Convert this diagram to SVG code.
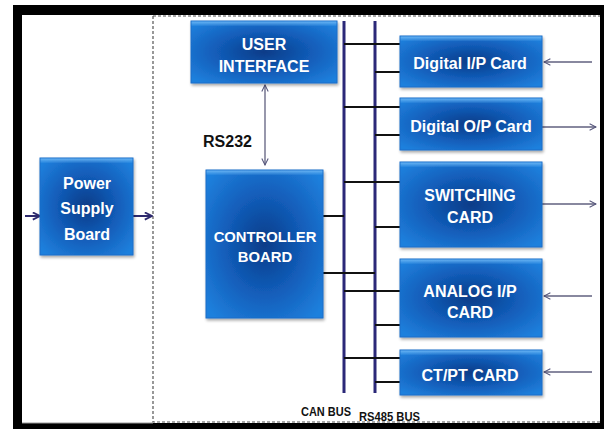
<svg xmlns="http://www.w3.org/2000/svg" width="604" height="429" viewBox="0 0 604 429">
  <defs>
    <radialGradient id="boxFill" cx="50%" cy="50%" r="65%">
      <stop offset="0%" stop-color="#083c88"/>
      <stop offset="50%" stop-color="#125cb8"/>
      <stop offset="100%" stop-color="#1f80dd"/>
    </radialGradient>
    <linearGradient id="topGlow" x1="0" y1="0" x2="0" y2="1">
      <stop offset="0%" stop-color="#6fb8f5" stop-opacity="0.9"/>
      <stop offset="100%" stop-color="#6fb8f5" stop-opacity="0"/>
    </linearGradient>
    <filter id="shadow" x="-10%" y="-10%" width="125%" height="130%">
      <feGaussianBlur in="SourceAlpha" stdDeviation="1.5"/>
      <feOffset dx="1" dy="2" result="b"/>
      <feComponentTransfer><feFuncA type="linear" slope="0.35"/></feComponentTransfer>
      <feMerge><feMergeNode/><feMergeNode in="SourceGraphic"/></feMerge>
    </filter>
    <marker id="open" viewBox="0 0 10 10" refX="9" refY="5" markerWidth="8" markerHeight="8" markerUnits="userSpaceOnUse" orient="auto-start-reverse">
      <path d="M1,1 L9,5 L1,9" fill="none" stroke="#55557a" stroke-width="1.3"/>
    </marker>
    <marker id="openDark" viewBox="0 0 10 10" refX="9" refY="5" markerWidth="9" markerHeight="9" markerUnits="userSpaceOnUse" orient="auto-start-reverse">
      <path d="M1,1 L9,5 L1,9" fill="none" stroke="#2e2a6e" stroke-width="2"/>
    </marker>
  </defs>
  <style>
    .box { fill: url(#boxFill); stroke: #1a6cc8; stroke-width: 1; filter: url(#shadow); }
    .glow { fill: url(#topGlow); }
    .lbl { font-family: "Liberation Sans", Arial, sans-serif; font-weight: bold; font-size: 16px; fill: #ffffff; text-anchor: middle; }
    .bus { stroke: #2b2878; stroke-width: 3; fill: none; }
    .tap { stroke: #111111; stroke-width: 2; fill: none; }
    .sig { stroke: #60607f; stroke-width: 1.3; fill: none; }
    .cap { font-family: "Liberation Sans", Arial, sans-serif; font-weight: bold; fill: #111111; }
  </style>

  <!-- page frame -->
  <rect x="13" y="5" width="591" height="424" fill="#000000"/>
  <rect x="22" y="15" width="578" height="408" fill="#ffffff"/>
  <line x1="22" y1="423" x2="153" y2="423" stroke="#999999" stroke-width="1"/>
  <!-- dashed enclosure of the controller section -->
  <path d="M153,16 H600 M153,16 V422 H600" fill="none" stroke="#555555" stroke-width="1.2" stroke-dasharray="3,2"/>

  <!-- connectors -->
  <g id="connectors">
    <!-- CAN and RS485 bus lines -->
    <line class="bus" x1="344" y1="21" x2="344" y2="393"/>
    <line class="bus" x1="375" y1="21" x2="375" y2="393"/>
    <!-- Digital I/P taps -->
    <line class="tap" x1="344" y1="44" x2="400" y2="44"/>
    <line class="tap" x1="375" y1="72" x2="400" y2="72"/>
    <!-- Digital O/P taps -->
    <line class="tap" x1="344" y1="107" x2="400" y2="107"/>
    <line class="tap" x1="375" y1="135" x2="400" y2="135"/>
    <!-- Switching taps -->
    <line class="tap" x1="344" y1="182" x2="400" y2="182"/>
    <line class="tap" x1="375" y1="227" x2="400" y2="227"/>
    <!-- Controller taps -->
    <line class="tap" x1="323" y1="216" x2="344" y2="216"/>
    <line class="tap" x1="323" y1="273" x2="375" y2="273"/>
    <!-- Analog I/P taps -->
    <line class="tap" x1="344" y1="291" x2="400" y2="291"/>
    <line class="tap" x1="375" y1="325" x2="400" y2="325"/>
    <!-- CT/PT taps -->
    <line class="tap" x1="344" y1="358" x2="400" y2="358"/>
    <line class="tap" x1="375" y1="382" x2="400" y2="382"/>

    <!-- RS232 link -->
    <line class="sig" x1="265" y1="85" x2="265" y2="165" marker-start="url(#open)" marker-end="url(#open)"/>

    <!-- field signals -->
    <line class="sig" x1="592" y1="62" x2="544" y2="62" marker-end="url(#open)"/>
    <line class="sig" x1="542" y1="127" x2="596" y2="127" marker-end="url(#open)"/>
    <line class="sig" x1="542" y1="204" x2="596" y2="204" marker-end="url(#open)"/>
    <line class="sig" x1="592" y1="296" x2="544" y2="296" marker-end="url(#open)"/>
    <line class="sig" x1="592" y1="372" x2="544" y2="372" marker-end="url(#open)"/>

    <!-- power in / out -->
    <line x1="25" y1="216" x2="40" y2="216" stroke="#2e2a6e" stroke-width="2" marker-end="url(#openDark)"/>
    <line x1="133" y1="216" x2="152" y2="216" stroke="#2e2a6e" stroke-width="2" marker-end="url(#openDark)"/>
  </g>

  <g id="power-supply">
    <rect class="box" x="40" y="158" width="93" height="97"/>
    <rect class="glow" x="40.5" y="158.5" width="92" height="5"/>
    <text class="lbl" x="87" y="189">Power</text>
    <text class="lbl" x="87" y="214">Supply</text>
    <text class="lbl" x="87" y="240">Board</text>
  </g>

  <g id="user-interface">
    <rect class="box" x="191" y="21" width="146" height="62"/>
    <rect class="glow" x="191.5" y="21.5" width="145" height="5"/>
    <text class="lbl" x="264" y="50">USER</text>
    <text class="lbl" x="264" y="72">INTERFACE</text>
  </g>

  <g id="controller">
    <rect class="box" x="206" y="170" width="117" height="148"/>
    <rect class="glow" x="206.5" y="170.5" width="116" height="5"/>
    <text class="lbl" x="265" y="242" style="font-size:14.8px">CONTROLLER</text>
    <text class="lbl" x="265" y="262" style="font-size:14.8px">BOARD</text>
  </g>

  <g id="digital-ip">
    <rect class="box" x="400" y="36" width="142" height="51"/>
    <rect class="glow" x="400.5" y="36.5" width="141" height="5"/>
    <text class="lbl" x="470" y="69">Digital I/P Card</text>
  </g>

  <g id="digital-op">
    <rect class="box" x="400" y="98" width="142" height="52"/>
    <rect class="glow" x="400.5" y="98.5" width="141" height="5"/>
    <text class="lbl" x="471" y="132">Digital O/P Card</text>
  </g>

  <g id="switching">
    <rect class="box" x="400" y="162" width="142" height="85"/>
    <rect class="glow" x="400.5" y="162.5" width="141" height="5"/>
    <text class="lbl" x="470" y="201">SWITCHING</text>
    <text class="lbl" x="470" y="223">CARD</text>
  </g>

  <g id="analog-ip">
    <rect class="box" x="400" y="259" width="142" height="78"/>
    <rect class="glow" x="400.5" y="259.5" width="141" height="5"/>
    <text class="lbl" x="470" y="297">ANALOG I/P</text>
    <text class="lbl" x="470" y="318">CARD</text>
  </g>

  <g id="ctpt">
    <rect class="box" x="400" y="350" width="142" height="45"/>
    <rect class="glow" x="400.5" y="350.5" width="141" height="5"/>
    <text class="lbl" x="470" y="381">CT/PT CARD</text>
  </g>

  <!-- captions -->
  <text class="cap" x="203" y="147" style="font-size:16px">RS232</text>
  <text class="cap" x="301" y="416" style="font-size:12.5px" textLength="50" lengthAdjust="spacingAndGlyphs">CAN BUS</text>
  <text class="cap" x="359" y="421" style="font-size:12.5px" textLength="61" lengthAdjust="spacingAndGlyphs">RS485 BUS</text>
</svg>
